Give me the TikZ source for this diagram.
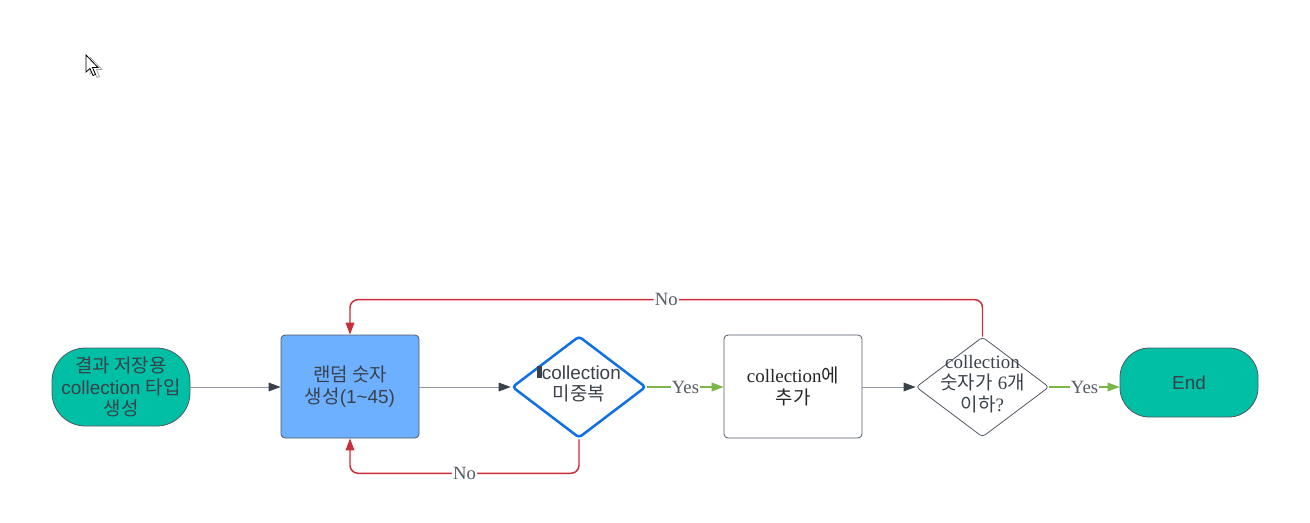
\documentclass[tikz,border=0pt]{standalone}
\usepackage{fontspec}
\setmainfont{Liberation Sans}
\newfontfamily\kr{Noto Sans CJK KR}
\newfontfamily\srf{Liberation Serif}
\usetikzlibrary{shapes.geometric,arrows.meta}
\definecolor{cTeal}{RGB}{0,191,165}
\definecolor{cBlue}{RGB}{108,176,255}
\definecolor{cBorder}{RGB}{80,88,100}
\definecolor{cText}{RGB}{58,65,74}
\definecolor{cDia}{RGB}{16,113,229}
\definecolor{cRed}{RGB}{201,45,57}
\definecolor{cGreen}{RGB}{122,182,72}
\definecolor{cGray}{RGB}{144,151,160}
\definecolor{cLbl}{RGB}{85,90,98}
\begin{document}
\begin{tikzpicture}[x=0.75pt,y=-0.75pt,
  font=\fontsize{14.2}{16.3}\selectfont,
  term/.style={draw=cBorder, line width=0.6pt, fill=cTeal, rounded corners=25pt, minimum width=103.5pt, minimum height=58.5pt, align=center, text=cText, inner sep=0pt},
  proc/.style={draw=cBorder, line width=0.6pt, rounded corners=3pt, minimum width=103.5pt, minimum height=77.25pt, align=center, text=cText, inner sep=0pt},
  dia/.style={diamond, inner sep=0pt, rounded corners=2.5pt},
  txt/.style={align=center, inner sep=0pt},
  flow/.style={draw=cGray, line width=0.75pt, -{Triangle[length=9pt,width=6.5pt,color=cText]}},
  yesline/.style={draw=cGreen, line width=1pt, -{Triangle[length=9pt,width=6.5pt,color=cGreen]}},
  noline/.style={draw=cRed, line width=1.1pt, rounded corners=6pt, -{Triangle[length=9pt,width=6.5pt,color=cRed]}},
  lbl/.style={fill=white, inner sep=1pt, font=\srf\fontsize{14}{15}\selectfont, text=cLbl}
]
\useasboundingbox (0,0) rectangle (1310,522);

% mouse cursor
\draw[black!35, line width=0.5pt, fill=white] (90,57) -- (90,74) -- (94,70.5) -- (97,77.5) -- (99.5,76.5) -- (96.5,69.5) -- (102,69.5) -- cycle;
\draw[black, line width=0.6pt, fill=white] (86,55) -- (86,72) -- (90,68.5) -- (93,75.5) -- (95.5,74.5) -- (92.5,67.5) -- (98,67.5) -- cycle;

% nodes
\node[term] (s) at (121,387) {{\kr 결과 저장용}\\collection {\kr 타입}\\{\kr 생성}};
\node[proc, fill=cBlue] (r) at (350,386.5) {{\kr 랜덤 숫자}\\{\kr 생성}(1\textasciitilde 45)};
\node[dia, draw=cDia, line width=1.9pt, minimum width=100.5pt, minimum height=76.5pt] (d1) at (579,387) {};
\node[txt, text=cText] (d1t) at (579,384) {{\color{cText}\rule[1pt]{3.5pt}{9pt}}collection\\{\kr 미중복}};
\node[proc, fill=white, text=black!85] (b2) at (793,386.5) {{\srf collection}{\kr 에}\\{\kr 추가}};
\node[dia, draw=cBorder, line width=0.6pt, minimum width=99.75pt, minimum height=75pt] (d2) at (982.5,387) {};
\node[txt, text=cText] (d2t) at (982.5,384) {{\srf collection}\\{\kr 숫자가} {\srf 6}{\kr 개}\\{\kr 이하}{\srf ?}};
\node[term, minimum height=51.75pt, rounded corners=22pt] (e) at (1189,382.5) {End};

% connectors
\draw[flow] (s.east) -- (s.east -| r.west);
\draw[flow] (r.east |- d1.west) -- (d1.west);
\draw[yesline] (d1.east) -- node[lbl]{Yes} (d1.east -| b2.west);
\draw[flow] (b2.east |- d2.west) -- (d2.west);
\draw[yesline] (d2.east) -- node[lbl]{Yes} (d2.east -| e.west);
\draw[noline] (d1.south) -- ++(0,34) -| node[lbl,pos=0.25]{No} (r.south);
\draw[noline] (d2.north) -- ++(0,-37) -| node[lbl,pos=0.25]{No} (r.north);
\end{tikzpicture}
\end{document}
